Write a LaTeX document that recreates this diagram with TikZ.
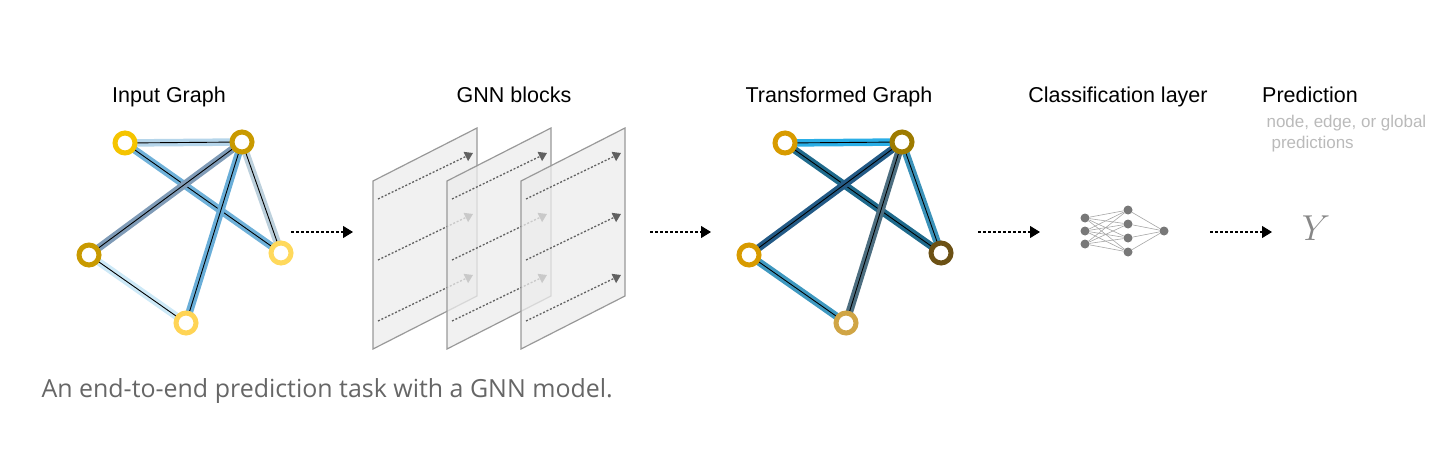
\documentclass[tikz,border=0pt]{standalone}
\usepackage{fontspec}
\setmainfont{Liberation Sans}
\newfontfamily\capfont{Open Sans}
\usetikzlibrary {arrows.meta, positioning}
\usetikzlibrary {backgrounds}

\definecolor{nA}{HTML}{F5C400}
\definecolor{nB}{HTML}{C99A00}
\definecolor{nD}{HTML}{FFD95C}
\definecolor{nE}{HTML}{FFD455}
\definecolor{eAB}{HTML}{B5D5EA}
\definecolor{eAD}{HTML}{6FB1D9}
\definecolor{eBC}{HTML}{7F9BB7}
\definecolor{eBE}{HTML}{6AAED8}
\definecolor{eBD}{HTML}{BCD0DC}
\definecolor{eCE}{HTML}{CDE9F7}
\definecolor{mA}{HTML}{D89B00}
\definecolor{mB}{HTML}{9E7B00}
\definecolor{mD}{HTML}{6C5115}
\definecolor{mE}{HTML}{D0A545}
\definecolor{tAB}{HTML}{2AAEE6}
\definecolor{tAD}{HTML}{1F6A8C}
\definecolor{tBC}{HTML}{235A86}
\definecolor{tBE}{HTML}{4D6E80}
\definecolor{tBD}{HTML}{3B92B9}
\definecolor{tCE}{HTML}{3E98C0}

\begin{document}
\begin{tikzpicture}[>=Latex, x=1pt, y=-1pt,
    vert/.style={circle, draw=#1, line width=5pt, fill=white, minimum size=20pt, inner sep=0pt},
    link/.style={draw=#1, line width=7.5pt, postaction={draw=black, line width=.9pt}},
    title/.style={anchor=base, font=\fontsize{21.5}{25}\selectfont},
    plane/.style={fill=gray!15, draw=gray!80, line width=1.2pt, fill opacity=.75},
    inflow/.style={draw=black!62, line width=1.3pt, dash pattern=on 2pt off 1.8pt, -{Triangle[length=8pt, width=10pt]}},
    flow/.style={draw=black, line width=1.1pt, dash pattern=on 3pt off 2pt, -{Triangle[length=10pt, width=12pt]}},
    neuron/.style={circle, fill=black!53, minimum size=9pt, inner sep=0pt},
    syn/.style={draw=black!35, line width=.6pt}]
    \useasboundingbox (0, 0) rectangle (1455, 449);
    % titles
    \node[title] (tin) at (169, 103) {Input Graph};
    \node[title] (tgnn) at (514, 103) {GNN blocks};
    \node[title] (ttr) at (839, 103) {Transformed Graph};
    \node[title] (tcl) at (1118, 103) {Classification layer};
    \node[title] (tpr) at (1310, 103) {Prediction};
    \node[anchor=base west, text=black!27, font=\fontsize{17}{20}\selectfont] (sub1) at (1263, 127.5) {node, edge, or global};
    \node[anchor=base west, text=black!27, font=\fontsize{17}{20}\selectfont] (sub2) at (1268, 148.5) {predictions};
    % input graph
    \begin{scope}
        \node[vert=nA] (A1) at (125, 143) {};
        \node[vert=nB] (B1) at (242, 142) {};
        \node[vert=nB] (C1) at (89, 255) {};
        \node[vert=nD] (D1) at (281, 253) {};
        \node[vert=nE] (E1) at (186, 323) {};
        \begin{scope}[on background layer]
            \draw[link=eAB] (A1.center) -- (B1.center);
            \draw[link=eBD] (B1.center) -- (D1.center);
            \draw[link=eCE] (C1.center) -- (E1.center);
            \draw[link=eAD] (A1.center) -- (D1.center);
            \draw[link=eBC] (B1.center) -- (C1.center);
            \draw[link=eBE] (B1.center) -- (E1.center);
        \end{scope}
    \end{scope}
    % GNN blocks
    \foreach \x in {373, 447, 521} {
        \draw[plane] (\x, 181) -- (\x + 104, 128) -- (\x + 104, 296) -- (\x, 349) -- cycle;
        \foreach \r in {0, 61, 122}
            \draw[inflow] (\x + 5, 199 + \r) -- (\x + 100, 153 + \r);
    }
    % transformed graph
    \begin{scope}[xshift=660pt]
        \node[vert=mA] (A2) at (125, 143) {};
        \node[vert=mB] (B2) at (242, 142) {};
        \node[vert=mA] (C2) at (89, 255) {};
        \node[vert=mD] (D2) at (281, 253) {};
        \node[vert=mE] (E2) at (186, 323) {};
        \begin{scope}[on background layer]
            \draw[link=tAB] (A2.center) -- (B2.center);
            \draw[link=tBD] (B2.center) -- (D2.center);
            \draw[link=tCE] (C2.center) -- (E2.center);
            \draw[link=tAD] (A2.center) -- (D2.center);
            \draw[link=tBC] (B2.center) -- (C2.center);
            \draw[link=tBE] (B2.center) -- (E2.center);
        \end{scope}
    \end{scope}
    % classification layer
    \foreach \i/\y in {1/218, 2/231, 3/244}
        \node[neuron] (n\i) at (1085, \y) {};
    \foreach \j/\y in {1/210, 2/224, 3/238, 4/252}
        \node[neuron] (h\j) at (1128, \y) {};
    \node[neuron] (o) at (1164, 231) {};
    \begin{scope}[on background layer]
        \foreach \i in {1, 2, 3}
            \foreach \j in {1, ..., 4}
                \draw[syn] (n\i) -- (h\j);
        \foreach \j in {1, ..., 4}
            \draw[syn] (h\j) -- (o);
    \end{scope}
    \node[text=black!47, font=\fontsize{24.88}{28}\selectfont, scale=1.45] (Y) at (1316, 228) {$Y$};
    % cross line
    \coordinate (s1) at (291, 232);
    \coordinate (t1) at (353, 232);
    \coordinate (s2) at (650, 232);
    \coordinate (t2) at (711, 232);
    \coordinate (s3) at (978, 232);
    \coordinate (t3) at (1040, 232);
    \coordinate (s4) at (1210, 232);
    \coordinate (t4) at (1272, 232);
    \draw[flow] (s1) -- (t1);
    \draw[flow] (s2) -- (t2);
    \draw[flow] (s3) -- (t3);
    \draw[flow] (s4) -- (t4);
    % caption
    \node[anchor=base west, text=black!60, font=\capfont\fontsize{24.95}{28}\selectfont] (cap) at (38, 397) {An end-to-end prediction task with a GNN model.};
\end{tikzpicture}
\end{document}
